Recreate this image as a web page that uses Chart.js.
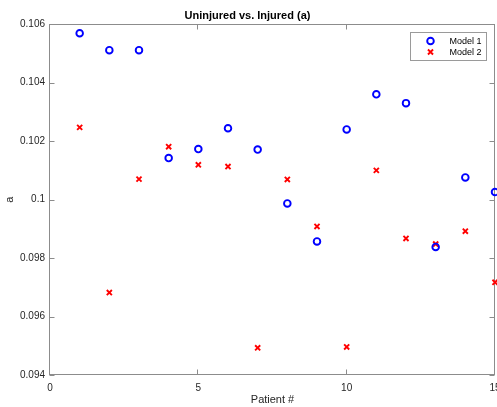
<!DOCTYPE html>
<html>
<head>
    <title>Uninjured vs. Injured (a)</title>
    <script src="https://cdn.jsdelivr.net/npm/chart.js"></script>
    <style>
        html, body { margin: 0; padding: 0; background: #fff; }
        #wrap { width: 497px; height: 407px; }
    </style>
</head>
<body>
<div id="wrap"><canvas id="myChart"></canvas></div>
<script>
    // values
    const patients = [1, 2, 3, 4, 5, 6, 7, 8, 9, 10, 11, 12, 13, 14, 15];
    const model1 = [0.10569, 0.10511, 0.10511, 0.10142, 0.10173, 0.10244, 0.10171, 0.09987,
                    0.09857, 0.10240, 0.10360, 0.10330, 0.09838, 0.10076, 0.10026];
    const model2 = [0.10247, 0.09682, 0.10070, 0.10181, 0.10119, 0.10113, 0.09493, 0.10069,
                    0.09908, 0.09496, 0.10100, 0.09867, 0.09848, 0.09892, 0.09717];
    const xTicks = [0, 5, 10, 15];
    const yTicks = [0.094, 0.096, 0.098, 0.1, 0.102, 0.104, 0.106];
    const seriesNames = ['Model 1', 'Model 2'];

    const font = '"Liberation Sans", Arial, Helvetica, sans-serif';
    const axisGray = '#8c8c8c';
    const noPad = () => ({left: 0, top: 0, right: 0, bottom: 0});

    // MATLAB style box with inward ticks, plus the legend inside the axes
    const boxPlugin = {
        id: 'matlabBox',
        beforeDatasetsDraw(chart) {
            const {ctx, chartArea: a, scales} = chart;
            ctx.save();
            ctx.strokeStyle = axisGray;
            ctx.lineWidth = 1;
            const L = Math.round(a.left) - 0.5, R = Math.round(a.right) - 0.5;
            const T = Math.round(a.top) + 0.5, B = Math.round(a.bottom) - 0.5;
            ctx.strokeRect(L, T, R - L, B - T);
            ctx.beginPath();
            xTicks.forEach(v => {
                const px = Math.round(scales.x.getPixelForValue(v)) - 0.5;
                ctx.moveTo(px, B); ctx.lineTo(px, B - 5);
                ctx.moveTo(px, T); ctx.lineTo(px, T + 5);
            });
            yTicks.forEach(v => {
                const py = Math.round(scales.y.getPixelForValue(v)) + 0.5;
                ctx.moveTo(L, py); ctx.lineTo(L + 5, py);
                ctx.moveTo(R, py); ctx.lineTo(R - 5, py);
            });
            ctx.stroke();
            ctx.restore();
        },
        afterDraw(chart) {
            const {ctx, chartArea: a} = chart;
            ctx.save();
            const bx = Math.round(a.right) - 84.5, by = Math.round(a.top) + 8.5, bw = 76, bh = 28;
            ctx.fillStyle = '#fff';
            ctx.fillRect(bx, by, bw, bh);
            ctx.strokeStyle = '#9a9a9a';
            ctx.lineWidth = 1;
            ctx.strokeRect(bx, by, bw, bh);
            ctx.font = '9px ' + font;
            ctx.textBaseline = 'middle';
            chart.data.datasets.forEach((ds, i) => {
                const cy = by + 8.5 + i * 11;
                const cx = bx + 20;
                ctx.fillStyle = ds.backgroundColor;
                ctx.strokeStyle = ds.borderColor;
                ctx.lineWidth = ds.borderWidth;
                Chart.helpers.drawPoint(ctx, {
                    pointStyle: ds.pointStyle,
                    radius: ds.pointRadius,
                    borderWidth: ds.borderWidth,
                    rotation: 0
                }, cx, cy);
                ctx.fillStyle = '#000';
                ctx.fillText(seriesNames[i], bx + 39, cy + 0.5);
            });
            ctx.restore();
        }
    };

    const ctx = document.getElementById('myChart').getContext('2d');
    const myChart = new Chart(ctx, {
        type: 'scatter',
        data: {
            datasets: [{
                label: seriesNames[0],
                data: patients.map((p, i) => ({x: p, y: model1[i]})),
                pointStyle: 'circle',
                pointRadius: 3.3,
                borderWidth: 1.9,
                borderColor: '#0000ff',
                backgroundColor: 'rgba(0,0,0,0)',
                clip: false
            }, {
                label: seriesNames[1],
                data: patients.map((p, i) => ({x: p, y: model2[i]})),
                pointStyle: 'crossRot',
                pointRadius: 3.6,
                borderWidth: 1.9,
                borderColor: '#ff0000',
                backgroundColor: '#ff0000',
                clip: false
            }]
        },
        options: {
            responsive: true,
            maintainAspectRatio: false,
            animation: false,
            events: [],
            layout: { autoPadding: false, padding: { left: 0, right: 2, top: 0, bottom: 0 } },
            plugins: {
                legend: { display: false },
                tooltip: { enabled: false },
                title: {
                    display: true,
                    text: 'Uninjured vs. Injured (a)',
                    color: '#000',
                    font: { family: font, size: 11, weight: 'bold' },
                    padding: { top: 9, bottom: 2 }
                }
            },
            scales: {
                x: {
                    type: 'linear',
                    min: 0,
                    max: 15,
                    grid: { display: false, drawTicks: false },
                    border: { display: false },
                    afterBuildTicks: s => { s.ticks = xTicks.map(v => ({value: v})); },
                    ticks: {
                        color: '#262626',
                        font: { family: font, size: 10 },
                        padding: 7,
                        maxRotation: 0,
                        callback: v => String(v)
                    },
                    title: {
                        display: true,
                        text: 'Patient #',
                        color: '#262626',
                        font: { family: font, size: 11 },
                        padding: { top: 0, bottom: 0 }
                    },
                    afterFit: s => {
                        s.height = 32;
                        s.paddingLeft = 0;
                        s.paddingRight = 0;
                        s.getPadding = noPad;
                    }
                },
                y: {
                    type: 'linear',
                    min: 0.094,
                    max: 0.106,
                    grid: { display: false, drawTicks: false },
                    border: { display: false },
                    afterBuildTicks: s => { s.ticks = yTicks.map(v => ({value: v})); },
                    ticks: {
                        color: '#262626',
                        font: { family: font, size: 10 },
                        padding: 5,
                        callback: v => String(parseFloat(v.toFixed(4)))
                    },
                    title: {
                        display: true,
                        text: 'a',
                        color: '#262626',
                        font: { family: font, size: 11 },
                        padding: { top: 3, bottom: 0 }
                    },
                    afterFit: s => {
                        s.width = 50;
                        s.paddingTop = 0;
                        s.paddingBottom = 0;
                        s.getPadding = noPad;
                    }
                }
            }
        },
        plugins: [boxPlugin]
    });
</script>
</body>
</html>
